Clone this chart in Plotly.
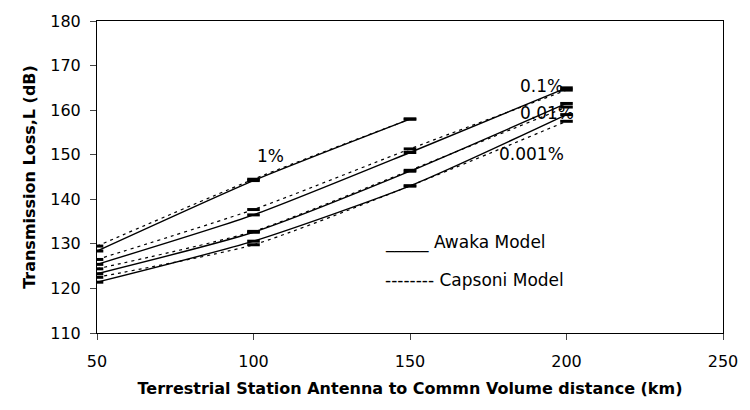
import plotly.graph_objects as go

distance = [50, 100, 150, 200]
distance_1pct = [50, 100, 150]

awaka_1 = [128.4, 144.2, 158.0]
capsoni_1 = [129.5, 144.5, 158.0]
awaka_01 = [125.4, 136.5, 150.5, 165.0]
capsoni_01 = [126.5, 137.7, 151.3, 164.5]
awaka_001 = [123.3, 132.6, 146.3, 161.5]
capsoni_001 = [124.4, 132.8, 146.5, 160.7]
awaka_0001 = [121.4, 130.6, 143.0, 159.0]
capsoni_0001 = [122.5, 129.8, 143.0, 157.5]

series = [
    ("Awaka 1%", distance_1pct, awaka_1, "solid"),
    ("Capsoni 1%", distance_1pct, capsoni_1, "3px,4px"),
    ("Awaka 0.1%", distance, awaka_01, "solid"),
    ("Capsoni 0.1%", distance, capsoni_01, "3px,4px"),
    ("Awaka 0.01%", distance, awaka_001, "solid"),
    ("Capsoni 0.01%", distance, capsoni_001, "3px,4px"),
    ("Awaka 0.001%", distance, awaka_0001, "solid"),
    ("Capsoni 0.001%", distance, capsoni_0001, "3px,4px"),
]

fig = go.Figure()
for name, xs, ys, dash in series:
    fig.add_trace(go.Scatter(
        x=xs, y=ys, name=name, mode="lines+markers",
        line=dict(color="black", width=1.4 if dash == "solid" else 1.2, dash=dash, shape="spline", smoothing=0.6),
        marker=dict(symbol="line-ew", size=9, line=dict(color="black", width=3)),
        showlegend=False,
    ))

font = "DejaVu Sans, Liberation Sans, Arial, sans-serif"
labels = [("1%", 105.3, 149.7, "center"), ("0.1%", 184.6, 165.5, "left"),
          ("0.01%", 184.6, 159.4, "left"), ("0.001%", 177.9, 150.2, "left")]
for txt, x, y, anc in labels:
    fig.add_annotation(x=x, y=y, text=txt, showarrow=False, xanchor=anc,
                       font=dict(size=17, color="black", family=font))

fig.add_annotation(x=141.5, y=130.4, text="_____ Awaka Model", showarrow=False, xanchor="left",
                   font=dict(size=17, color="black", family=font))
fig.add_annotation(x=141.5, y=121.8, text="-------- Capsoni Model", showarrow=False, xanchor="left",
                   font=dict(size=17, color="black", family=font))

fig.update_layout(
    width=750, height=410,
    margin=dict(l=97, r=20, t=14, b=77),
    plot_bgcolor="white", paper_bgcolor="white",
    font=dict(family=font, size=16, color="black"),
)
fig.update_xaxes(range=[50, 250], tickvals=[50, 100, 150, 200, 250], ticks="outside", ticklen=6,
                 ticklabelstandoff=8,
                 showline=True, linecolor="black", linewidth=1, mirror=True, showgrid=False, zeroline=False,
                 title=dict(text="<b>Terrestrial Station Antenna to Commn Volume distance (km)</b>", font=dict(size=16), standoff=12))
fig.update_yaxes(range=[110, 180], tickvals=[110, 120, 130, 140, 150, 160, 170, 180], ticks="outside", ticklen=6,
                 ticklabelstandoff=6,
                 showline=True, linecolor="black", linewidth=1, mirror=True, showgrid=False, zeroline=False,
                 title=dict(text="<b>Transmission Loss,L (dB)</b>", font=dict(size=16), standoff=10))

fig.write_html("out.html")
